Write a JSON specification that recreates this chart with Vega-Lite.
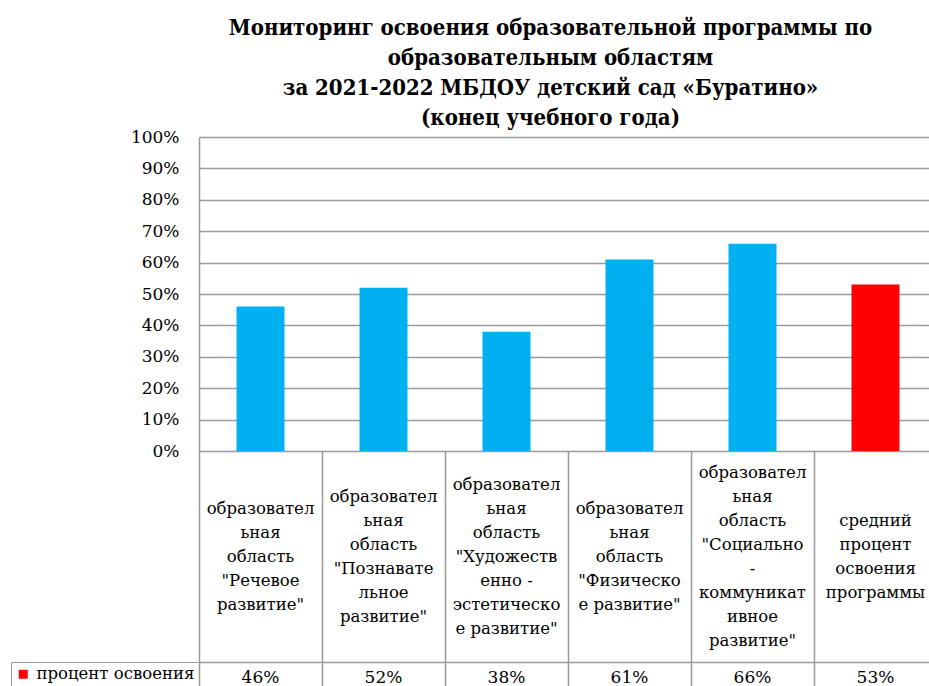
{
  "$schema": "https://vega.github.io/schema/vega-lite/v6.json",
  "padding": {"left": 10, "top": 17, "right": 0, "bottom": 0},
  "config": {"view": {"stroke": null}, "concat": {"spacing": 0}},
  "spacing": 0,
  "bounds": "flush",
  "datasets": {
    "d": [
      {"label": "образовател\nьная\nобласть\n\"Речевое\nразвитие\"", "lines": 5, "value": 0.46, "avg": false, "series": "процент освоения"},
      {"label": "образовател\nьная\nобласть\n\"Познавате\nльное\nразвитие\"", "lines": 6, "value": 0.52, "avg": false, "series": "процент освоения"},
      {"label": "образовател\nьная\nобласть\n\"Художеств\nенно -\nэстетическо\nе развитие\"", "lines": 7, "value": 0.38, "avg": false, "series": "процент освоения"},
      {"label": "образовател\nьная\nобласть\n\"Физическо\nе развитие\"", "lines": 5, "value": 0.61, "avg": false, "series": "процент освоения"},
      {"label": "образовател\nьная\nобласть\n\"Социально\n-\nкоммуникат\nивное\nразвитие\"", "lines": 8, "value": 0.66, "avg": false, "series": "процент освоения"},
      {"label": "средний\nпроцент\nосвоения\nпрограммы", "lines": 4, "value": 0.53, "avg": true, "series": "процент освоения"}
    ]
  },
  "resolve": {"scale": {"x": "independent", "y": "independent", "color": "independent"}},
  "vconcat": [
    {
      "width": 729,
      "height": 314,
      "title": {
        "text": ["Мониторинг освоения образовательной программы по", "образовательным областям", "за  2021-2022  МБДОУ детский сад  «Буратино»", "(конец учебного года)"],
        "font": "DejaVu Serif Condensed",
        "fontSize": 22,
        "fontWeight": "bold",
        "lineHeight": 30,
        "anchor": "middle",
        "dx": -13,
        "offset": -2,
        "color": "#000000"
      },
      "data": {"name": "d"},
      "mark": {"type": "bar", "width": {"band": 0.39}},
      "encoding": {
        "x": {
          "field": "label", "type": "nominal", "sort": null,
          "scale": {"range": [0, 738], "paddingInner": 0, "paddingOuter": 0},
          "axis": null
        },
        "y": {
          "field": "value", "type": "quantitative",
          "scale": {"domain": [0, 1]},
          "axis": {
            "values": [0, 0.1, 0.2, 0.3, 0.4, 0.5, 0.6, 0.7, 0.8, 0.9, 1],
            "format": ".0%",
            "grid": true, "gridColor": "#9a9a9a", "gridWidth": 1.5,
            "domain": true, "domainColor": "#9a9a9a", "domainWidth": 1.5,
            "ticks": false,
            "labelPadding": 20,
            "labelFont": "DejaVu Serif",
            "labelFontSize": 17, "labelColor": "#000000",
            "title": null
          }
        },
        "color": {"condition": {"test": "datum.avg", "value": "#FF0000"}, "value": "#00B0F0"}
      }
    },
    {
      "width": 729,
      "height": 211,
      "data": {"name": "d"},
      "mark": {"type": "text", "font": "DejaVu Serif", "lineBreak": "\n", "fontSize": 16.5, "lineHeight": 24, "baseline": "middle", "align": "center", "color": "#000000"},
      "encoding": {
        "x": {
          "field": "label", "type": "nominal", "sort": null,
          "scale": {"range": [0, 738], "paddingInner": 0, "paddingOuter": 0},
          "axis": {"grid": true, "tickBand": "extent", "gridColor": "#9a9a9a", "gridWidth": 1.5, "labels": false, "ticks": false, "domain": false, "title": null}
        },
        "y": {
          "field": "lines", "type": "quantitative",
          "scale": {"domain": [-7.7917, 9.7917], "nice": false, "zero": false},
          "axis": null
        },
        "text": {"field": "label"}
      }
    },
    {
      "width": 729,
      "height": 25,
      "data": {"name": "d"},
      "encoding": {
        "x": {
          "field": "label", "type": "nominal", "sort": null,
          "scale": {"range": [0, 738], "paddingInner": 0, "paddingOuter": 0},
          "axis": {"grid": true, "tickBand": "extent", "gridColor": "#9a9a9a", "gridWidth": 1.5, "labels": false, "ticks": false, "domain": false, "title": null}
        },
        "y": {
          "field": "series", "type": "nominal",
          "scale": {"paddingInner": 0, "paddingOuter": 0},
          "axis": {"grid": true, "tickBand": "extent", "gridColor": "#9a9a9a", "gridWidth": 1.5, "labels": false, "ticks": false, "domain": false, "title": null}
        }
      },
      "layer": [
        {
          "mark": {"type": "text", "font": "DejaVu Serif", "fontSize": 17, "baseline": "middle", "align": "center", "dy": 3, "color": "#000000"},
          "encoding": {"text": {"field": "value", "type": "quantitative", "format": ".0%"}}
        },
        {
          "mark": {"type": "square", "size": 0, "opacity": 1},
          "encoding": {
            "color": {
              "field": "series", "type": "nominal",
              "scale": {"range": ["#FF0000"]},
              "legend": {
                "orient": "left", "offset": 0, "title": null,
                "strokeColor": "#9a9a9a", "padding": 4,
                "symbolType": "square", "symbolSize": 81, "symbolStrokeWidth": 0,
                "labelFont": "DejaVu Serif",
                "labelFontSize": 16.5, "labelColor": "#000000",
                "labelOffset": 5, "labelLimit": 0
              }
            }
          }
        }
      ]
    }
  ]
}
